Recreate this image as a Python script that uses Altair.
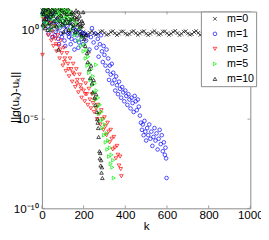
import altair as alt
import pandas as pd

# ---- data: k and log10 of ||g(u_k)-u_k|| ----
k_m0 = [2, 6, 10, 14, 18, 22, 26, 30, 34, 38, 42, 46, 50, 55, 60, 65, 70, 75, 80, 85,
        90, 95, 100, 105, 110, 115, 120, 125, 130, 135, 140, 145, 150, 155, 160, 165, 170, 175, 180, 185,
        190, 195, 200, 205,
        8, 16, 24, 32, 40, 48, 58, 68, 78, 88, 98, 108, 118, 128, 138, 148, 158, 168, 178, 188, 198,
        210, 220, 230, 240, 250, 260, 270, 280, 290, 300, 310, 320, 330, 340, 350, 360, 370, 380, 390, 400,
        410, 420, 430, 440, 450, 460, 470, 480, 490, 500, 510, 520, 530, 540, 550, 560, 570, 580, 590, 600,
        610, 620, 630, 640, 650, 660, 670, 680, 690, 700, 710, 720, 730, 740, 750, 760, 770, 780, 790, 800,
        810, 820, 830, 840, 850, 860, 870, 880, 890, 900, 910, 920, 930, 940, 950, 960, 970, 980, 990, 1000]
e_m0 = [1.1, 0.9, 1.2, 0.7, 1.0, 0.5, 1.1, 0.8, 0.3, 1.0, 0.6, 1.2, 0.4, 0.9, 0.2, 1.0, 0.6, 0.0, 0.8, 1.1,
        0.3, 0.7, -0.2, 0.9, 0.5, 0.1, 0.8, 1.0, 0.4, -0.1, 0.6, 0.9, 0.2, 0.5, -0.2, 0.7, 0.3, -0.1, 0.4, 0.0,
        -0.3, 0.2, -0.1, -0.3,
        0.4, 0.2, 0.8, 1.2, 0.0, 0.8, 1.1, 0.3, 0.5, 0.9, 0.4, 1.2, 0.6, -0.2, 0.3, 0.7, 0.9, 0.0, 0.6, 0.2, -0.4,
        -0.20, -0.28, -0.15, -0.08, -0.18, -0.27, -0.22, -0.10, -0.06, -0.17, -0.28, -0.24, -0.12, -0.07, -0.19, -0.29, -0.21, -0.09, -0.08, -0.20,
        -0.27, -0.23, -0.11, -0.06, -0.18, -0.28, -0.20, -0.10, -0.07, -0.21, -0.29, -0.22, -0.12, -0.06, -0.17, -0.27, -0.23, -0.09, -0.08, -0.19,
        -0.28, -0.21, -0.11, -0.05, -0.18, -0.29, -0.22, -0.10, -0.07, -0.20, -0.27, -0.24, -0.12, -0.06, -0.17, -0.28, -0.21, -0.09, -0.08, -0.19,
        -0.29, -0.22, -0.11, -0.06, -0.18, -0.27, -0.23, -0.10, -0.07, -0.20, -0.28, -0.21, -0.12, -0.05, -0.17, -0.29, -0.22, -0.10, -0.08, -0.19]

k_m1 = [5, 12, 20, 28, 35, 45, 55, 62, 70, 78, 85, 92, 100, 108, 115, 122, 130, 138, 145, 152,
        160, 168, 175, 182, 190, 198, 205, 212, 220, 228, 235, 240, 248, 255, 262, 268, 272, 278, 283, 288,
        292, 296, 300, 305, 310, 315, 318, 322, 326, 330, 335, 338, 342, 348, 352, 356, 360, 365, 370, 375,
        380, 385, 390, 395, 400, 405, 410, 415, 420, 425, 430, 435, 440, 445, 450, 455, 460, 465, 470, 475,
        480, 484, 488, 492, 496, 500, 505, 510, 515, 520, 525, 530, 535, 540, 545, 550, 555, 560, 565, 570,
        575, 580, 585, 590, 593, 596, 598,
        8, 16, 24, 32, 40, 50, 58, 66, 74, 82, 96, 104, 112, 126, 134, 142, 156, 164, 178, 194]
e_m1 = [0.9, 0.5, 0.8, 0.2, 0.6, 0.0, 0.4, -0.3, 0.3, -0.5, 0.1, -0.2, 0.5, -0.6, -0.1, 0.2, -0.4, -0.8, -0.2, 0.1,
        -0.6, -0.3, -1.0, -0.1, -0.5, -0.8, -0.2, -0.6, -0.3, -1.1, -0.4, 0.1, -0.7, -0.2, -1.0, -0.5, -1.5, -0.8, -0.3, -1.2,
        -1.8, -0.9, -1.4, -2.0, -1.1, -2.3, -1.6, -2.8, -2.0, -2.5, -1.9, -3.0, -2.4, -2.8, -3.4, -2.6, -3.1, -3.6, -2.9, -3.3,
        -3.8, -3.2, -3.5, -4.0, -3.4, -3.7, -4.2, -3.6, -3.9, -4.4, -3.8, -4.1, -4.6, -3.7, -4.0, -4.5, -3.9, -4.3, -4.8, -5.2,
        -5.6, -5.3, -5.9, -5.1, -5.7, -6.2, -5.5, -5.9, -5.3, -6.1, -5.7, -6.5, -6.0, -5.5, -6.2, -5.8, -6.7, -6.1, -5.6, -6.4,
        -5.9, -6.8, -6.3, -7.0, -6.6, -7.2, -8.3,
        0.2, 1.0, 0.4, -0.2, 0.7, -0.4, 0.9, -0.1, 0.6, -0.8, -0.4, 0.2, -0.9, -0.2, 0.4, -0.5, -1.1, 0.0, -0.7, -0.2]

k_m3 = [3, 8, 15, 22, 30, 38, 45, 50, 52, 55, 60, 65, 68, 70, 75, 80, 85, 88, 90, 95,
        100, 105, 108, 110, 115, 120, 125, 128, 130, 135, 140, 145, 148, 150, 155, 160, 165, 168, 170, 175,
        180, 185, 188, 190, 195, 200, 205, 208, 210, 215, 220, 225, 230, 235, 240, 245, 250, 255, 260, 265,
        270, 275, 280, 285, 290, 295, 300, 305, 310, 315, 320, 325, 330, 335, 340, 345, 350, 355, 360, 365,
        370, 375, 378, 381]
e_m3 = [-1.4, 0.6, 0.2, 0.9, -0.3, 0.4, -0.6, -0.1, -0.4, -0.9, 0.2, -0.5, -0.8, -1.2, -0.3, -0.9, -1.6, -1.1, -0.6, -1.3,
        -2.0, -1.0, -1.8, -1.6, -2.3, -1.3, -1.9, -2.2, -2.6, -1.6, -2.2, -2.9, -2.4, -1.9, -2.5, -3.2, -2.2, -3.0, -2.8, -3.5,
        -2.5, -3.1, -3.3, -3.8, -2.8, -3.4, -4.0, -3.6, -3.0, -3.6, -4.2, -3.3, -3.9, -4.4, -3.6, -4.1, -4.6, -3.9, -4.4, -5.0,
        -4.2, -4.7, -5.3, -4.5, -5.0, -5.6, -4.9, -5.4, -5.9, -5.2, -5.7, -6.3, -5.6, -6.1, -6.7, -6.0, -6.6, -7.2, -6.5, -7.0,
        -7.6, -7.1, -7.8, -8.2]

k_m5 = [3, 8, 14, 20, 26, 33, 40, 48, 56, 64, 72, 80, 86, 92, 98, 104, 110, 116, 122, 128,
        134, 140, 146, 152, 158, 164, 170, 176, 182, 188, 194, 200, 205, 210, 214, 218, 222, 226, 230, 234,
        238, 242, 246, 250, 254, 258, 260, 262, 266, 270, 274, 278, 282, 286, 290, 294, 298, 302, 306, 310,
        314, 318, 322, 326, 330, 334, 338, 342, 345,
        10, 17, 23, 30, 37, 44, 52, 60, 68, 76, 84, 90, 96, 102, 108, 114, 120, 126, 132, 138, 144, 150]
e_m5 = [0.8, 1.1, 0.5, 1.2, 0.9, 0.3, 1.0, 0.6, 1.1, 0.2, 0.9, 1.2, 0.5, 1.0, 0.7, 1.1, 0.3, 0.8, 1.0, 0.4,
        0.9, 0.0, 0.6, 0.2, -0.3, 0.4, -0.2, -0.6, 0.1, -0.9, -0.4, -1.2, -0.8, -1.6, -1.1, -2.0, -1.5, -2.4, -1.9, -2.8,
        -2.2, -3.1, -2.6, -3.5, -3.0, -3.9, -1.95, -3.4, -4.3, -3.8, -4.7, -4.2, -5.1, -4.6, -5.5, -5.0, -5.9, -5.3, -6.3, -5.8,
        -6.7, -6.2, -7.1, -6.6, -7.5, -7.0, -7.7, -7.3, -8.3,
        0.2, 0.9, 0.4, 1.1, 0.7, 0.0, 0.8, 1.2, 0.5, 1.0, 0.8, 0.2, 1.2, 0.5, 1.0, 0.6, 1.2, 0.7, 1.1, 0.5, 0.9, 0.6]

k_m10 = [2, 7, 12, 18, 24, 30, 36, 42, 50, 58, 66, 74, 79, 84, 92, 100, 108, 116, 124, 132,
         140, 148, 156, 164, 172, 180, 186, 192, 198, 204, 208, 212, 216, 220, 224, 228, 232, 236, 240, 244,
         248, 252, 256, 260, 264, 266, 268, 270, 272, 276, 278, 280, 282, 284, 286, 288, 290,
         4, 9, 15, 21, 27, 33, 39, 45, 54, 62, 70, 88, 96, 104, 112, 120, 128, 136, 144, 152,
         160, 168, 176, 184, 190, 196]
e_m10 = [1.0, 1.2, 0.6, 1.1, 0.8, 1.2, 0.4, 0.9, 1.1, 0.5, 1.0, 0.7, -1.1, 1.2, 0.8, 0.3, 1.0, 0.6, 1.2, 0.4,
         0.9, 0.1, 0.7, 1.1, 0.3, 0.8, -0.2, 0.5, 1.0, -0.5, -0.9, -0.3, -1.3, -1.8, -1.2, -2.2, -2.7, -2.0, -3.0, -3.5,
         -2.8, -3.8, -4.2, -3.6, -4.6, -5.0, -5.2, -5.5, -6.0, -6.8, -7.2, -6.9, -7.6, -7.3, -8.0, -7.7, -8.3,
         0.3, 0.9, 0.1, 0.6, 0.0, 0.7, 1.0, 0.2, 0.8, 1.2, 0.2, 0.5, 1.1, -0.1, 0.4, 0.9, 0.0, 0.6, 1.0, 0.3,
         -0.1, 0.6, 1.0, 0.2, -0.3, 0.4]

series = ["m=0", "m=1", "m=3", "m=5", "m=10"]
colors = ["#000000", "#0000ff", "#ff0000", "#00ee00", "#000000"]
shapes = ["M-1,-1L1,1M1,-1L-1,1", "circle", "triangle-down", "triangle-right", "triangle-up"]

x_ticks = [0, 200, 400, 600, 800, 1000]
y_ticks = [1e-10, 1e-5, 1.0]

rows = []
for name, ks, es in zip(series, [k_m0, k_m1, k_m3, k_m5, k_m10], [e_m0, e_m1, e_m3, e_m5, e_m10]):
    for kk, ee in zip(ks, es):
        rows.append({"k": kk, "v": 10.0 ** ee, "m": name})
df = pd.DataFrame(rows)

xscale = alt.Scale(domain=[0, 1000], nice=False, zero=False)
yscale = alt.Scale(type="log", domain=[1e-10, 10 ** 1.03], nice=False)

points = alt.Chart(df).mark_point(filled=False, size=14, strokeWidth=0.7, opacity=1).encode(
    x=alt.X("k:Q", scale=xscale,
            axis=alt.Axis(values=x_ticks, format="d", title="k", labelPadding=2, titlePadding=0,
                          labelFlush=False)),
    y=alt.Y("v:Q", scale=yscale,
            axis=alt.Axis(values=y_ticks, title="||g(uₖ)-uₖ||", labelPadding=4,
                          labelExpr="datum.value > 0.1 ? '10⁰' : (datum.value > 1e-7 ? '10⁻⁵' : '10⁻¹⁰')",
                          titleX=-24, titleY=88, titleAngle=-90, titleBaseline="alphabetic")),
    color=alt.Color("m:N", scale=alt.Scale(domain=series, range=colors), legend=alt.Legend(title=None)),
    shape=alt.Shape("m:N", scale=alt.Scale(domain=series, range=shapes), legend=alt.Legend(title=None)),
)

xt = pd.DataFrame({"k": x_ticks})
yt = pd.DataFrame({"v": y_ticks})
tick_col = "#888888"
bottom_ticks = alt.Chart(xt).mark_rule(color=tick_col, strokeWidth=0.8).encode(
    x=alt.X("k:Q", scale=xscale), y=alt.value(203), y2=alt.value(200))
top_ticks = alt.Chart(xt).mark_rule(color=tick_col, strokeWidth=0.8).encode(
    x=alt.X("k:Q", scale=xscale), y=alt.value(0), y2=alt.value(3))
left_ticks = alt.Chart(yt).mark_rule(color=tick_col, strokeWidth=0.8).encode(
    y=alt.Y("v:Q", scale=yscale), x=alt.value(0), x2=alt.value(3))
right_ticks = alt.Chart(yt).mark_rule(color=tick_col, strokeWidth=0.8).encode(
    y=alt.Y("v:Q", scale=yscale), x=alt.value(215), x2=alt.value(212))

chart = alt.layer(bottom_ticks, top_ticks, left_ticks, right_ticks, points).properties(
    width=215, height=203,
    autosize=alt.AutoSizeParams(type="none"),
    padding={"left": 35, "top": 0, "right": 11, "bottom": 29},
).configure_view(
    stroke="#888888", strokeWidth=1
).configure_axis(
    domain=False, ticks=False, grid=False,
    labelFont="Liberation Sans", labelFontSize=12, labelColor="#000000",
    titleFont="Liberation Sans", titleFontSize=12, titleColor="#000000", titleFontWeight="normal",
).configure_legend(
    orient="none", legendX=164, legendY=0,
    fillColor="white", strokeColor="#888888", padding=2,
    labelFont="Liberation Sans", labelFontSize=11, labelColor="#000000",
    symbolSize=14, symbolStrokeWidth=0.7, rowPadding=3.5,
    symbolOffset=7, labelOffset=7,
)

chart.save("out.html", embed_options={"renderer": "svg", "actions": False})
